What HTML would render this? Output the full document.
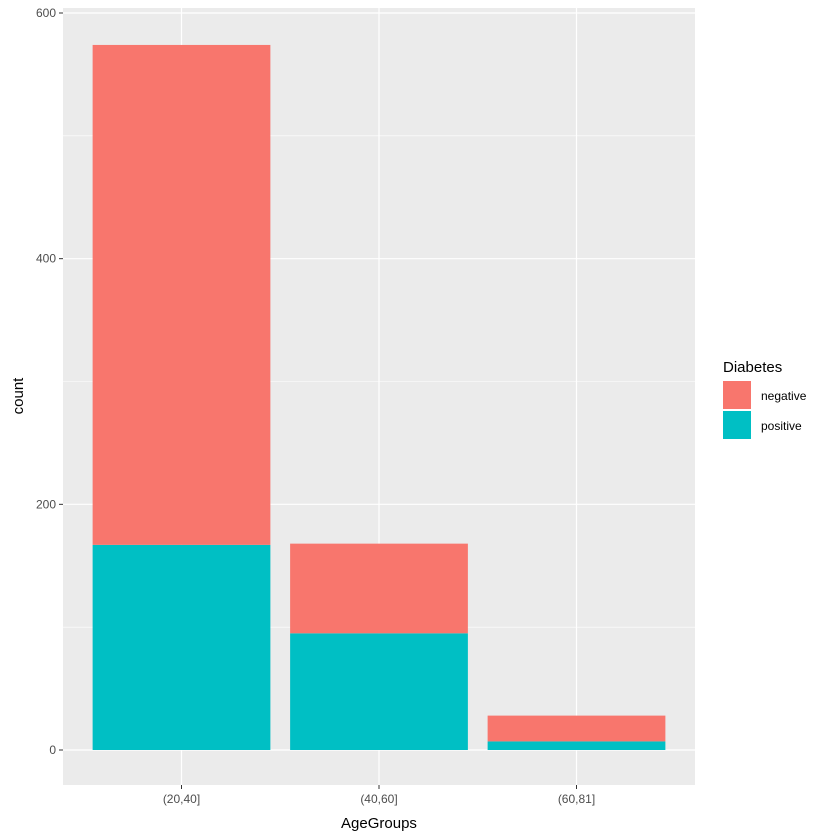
<!DOCTYPE html>
<html><head><meta charset="utf-8"><style>body{margin:0;background:#fff}svg{display:block;font-family:"Liberation Sans",Arial,sans-serif}</style></head>
<body>
<svg id="chart" width="840" height="840" viewBox="0 0 840 840" xmlns="http://www.w3.org/2000/svg">
<rect x="0" y="0" width="840" height="840" fill="#fff"/>
<rect x="63" y="8" width="632" height="777" fill="#ebebeb"/>
<g id="grid"></g>
<g id="bars"></g>
<g id="axes"></g>
<text x="379" y="828" font-size="15" text-anchor="middle" fill="#000">AgeGroups</text>
<text transform="translate(23,396) rotate(-90)" font-size="15" text-anchor="middle" fill="#000">count</text>
<g>
<text x="723" y="372" font-size="15" fill="#000">Diabetes</text>
<rect x="723" y="381" width="28" height="28" fill="#F8766D"/>
<text x="761" y="400" font-size="12" fill="#000">negative</text>
<rect x="723" y="411" width="28" height="28" fill="#00BFC4"/>
<text x="761" y="430" font-size="12" fill="#000">positive</text>
</g>
</svg>
<script>
const categories = ["(20,40]", "(40,60]", "(60,81]"];
const positive = [167, 95, 7];
const negative = [407, 73, 21];
const yTicks = [0, 200, 400, 600];
const yMinor = [100, 300, 500];
const NS = "http://www.w3.org/2000/svg";
const px0 = 63, pw = 632, y0 = 750, ppu = (750 - 13) / 600;
const step = pw / (categories.length - 1 + 1.2);
function xScale(i) { return px0 + step * (0.6 + i); }
function yScale(v) { return y0 - v * ppu; }
function mk(tag, attrs, parent) { const e = document.createElementNS(NS, tag); for (const k in attrs) e.setAttribute(k, attrs[k]); parent.appendChild(e); return e; }
const grid = document.getElementById('grid'), bars = document.getElementById('bars'), axes = document.getElementById('axes');
yMinor.forEach(v => {
  const l = mk('line', {x1: px0, x2: px0 + pw, y1: yScale(v), y2: yScale(v), stroke: '#fff', 'stroke-width': 0.6}, grid);
  
  
});
yTicks.forEach(v => {
  const l = mk('line', {x1: px0, x2: px0 + pw, y1: yScale(v), y2: yScale(v), stroke: '#fff', 'stroke-width': 1.2}, grid);
  
  
  const t = mk('line', {x1: px0 - 4, x2: px0, y1: yScale(v), y2: yScale(v), stroke: '#333', 'stroke-width': 1}, axes);
  
  
  const tx = mk('text', {x: px0 - 7, y: yScale(v) + 4, 'font-size': 12, 'text-anchor': 'end', fill: '#4d4d4d'}, axes);
  tx.textContent = v;
  
  
});
const bw = step * 0.9;
categories.forEach((c, i) => {
  const cx = xScale(i);
  const g = mk('line', {x1: cx, x2: cx, y1: 8, y2: 785, stroke: '#fff', 'stroke-width': 1.2}, grid);
  
  
  const p = mk('rect', {x: cx - bw / 2, width: bw, y: yScale(positive[i]), height: yScale(0) - yScale(positive[i]), fill: '#00BFC4'}, bars);
  
  
  const tot = positive[i] + negative[i];
  const n = mk('rect', {x: cx - bw / 2, width: bw, y: yScale(tot), height: yScale(positive[i]) - yScale(tot), fill: '#F8766D'}, bars);
  
  
  const t = mk('line', {x1: cx, x2: cx, y1: 785, y2: 789, stroke: '#333', 'stroke-width': 1}, axes);
  
  
  const tx = mk('text', {x: cx, y: 803, 'font-size': 12, 'text-anchor': 'middle', fill: '#4d4d4d'}, axes);
  tx.textContent = c;
  
  
});
</script>
</body></html>
